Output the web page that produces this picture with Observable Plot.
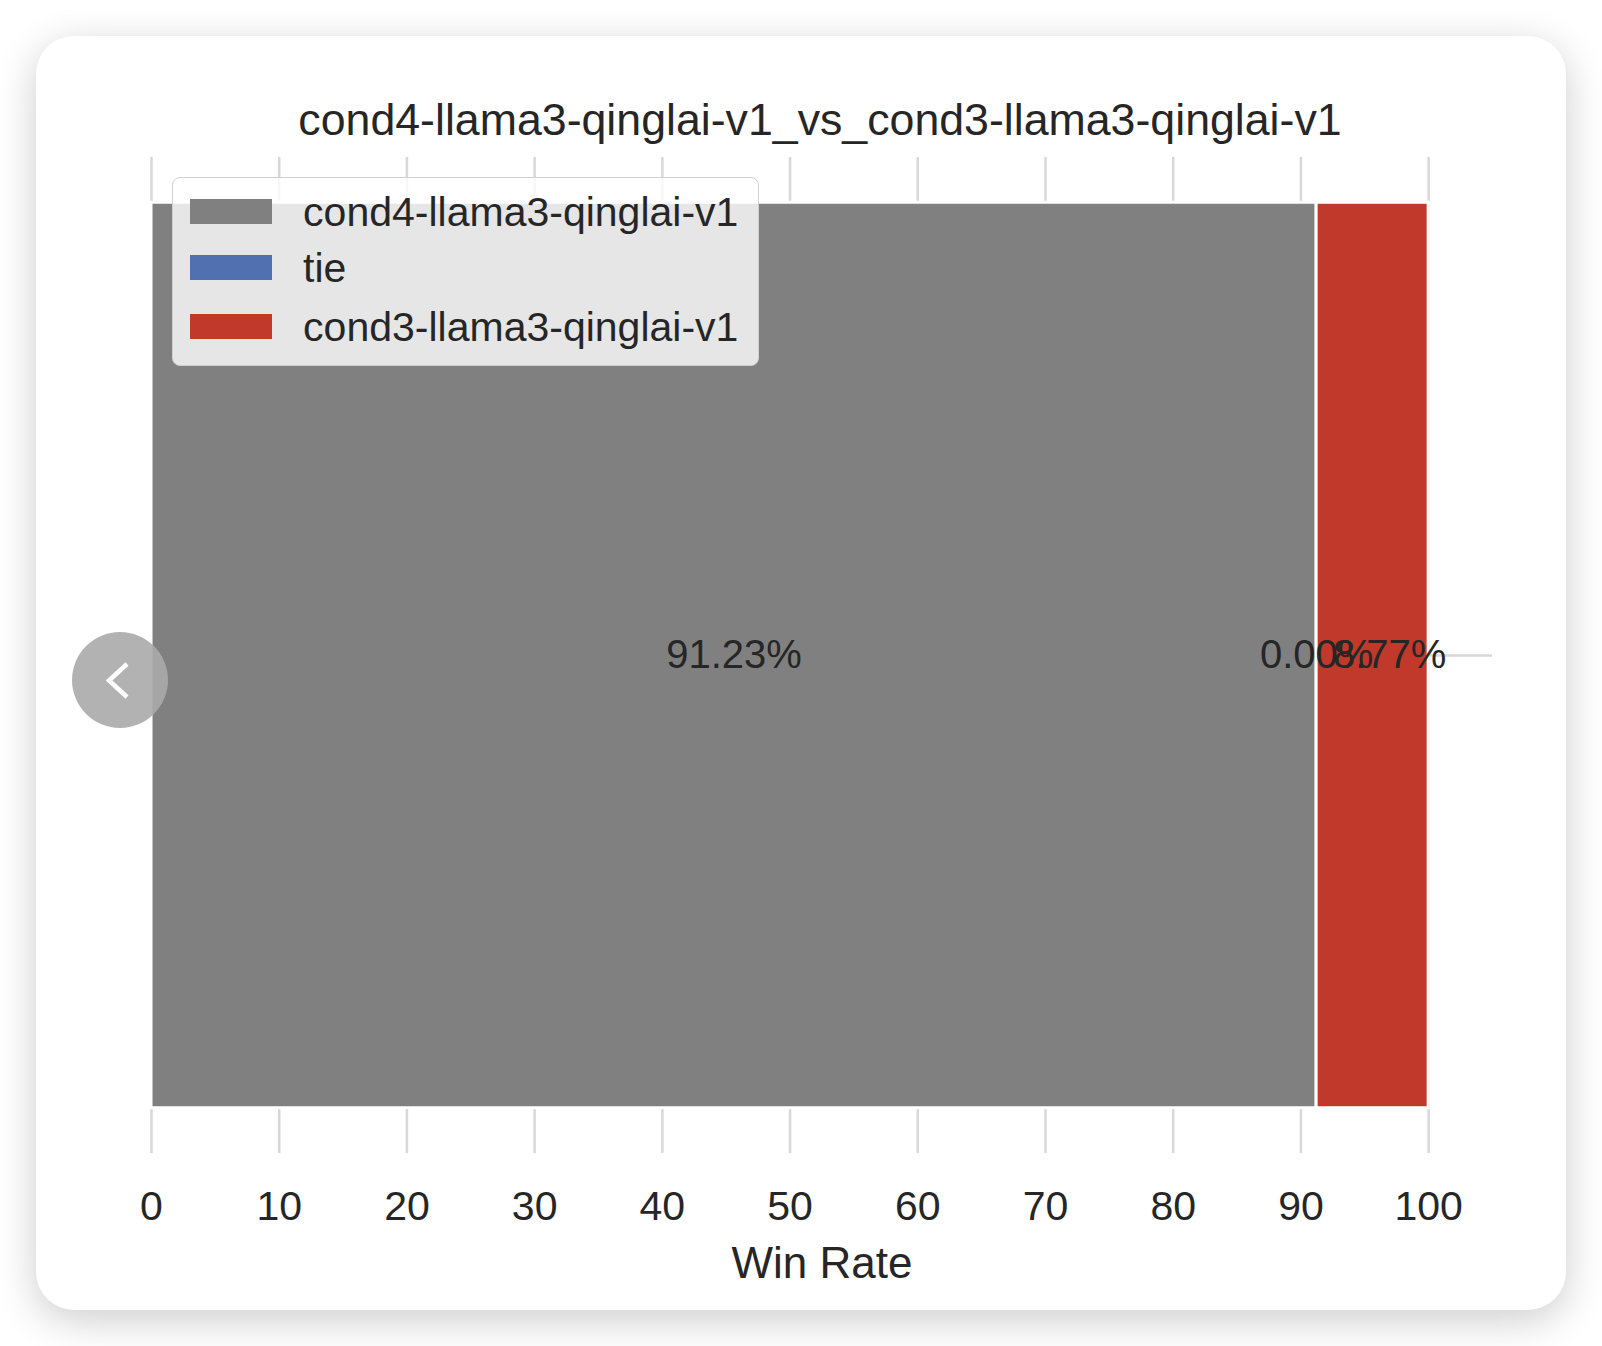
<!DOCTYPE html>
<html>
<head>
<meta charset="utf-8">
<script src="https://cdn.jsdelivr.net/npm/d3@7"></script>
<script src="https://cdn.jsdelivr.net/npm/@observablehq/plot@0.6"></script>
<style>
  html, body { margin: 0; padding: 0; background: #ffffff; width: 1602px; height: 1346px; overflow: hidden;
    font-family: "Liberation Sans", Arial, Helvetica, sans-serif; }
  #card { position: absolute; left: 36px; top: 36px; width: 1530px; height: 1274px; background: #fff;
    border-radius: 38px; box-shadow: 0 10px 40px rgba(0,0,0,0.20); }
  #title { position: absolute; left: 0; top: 97px; width: 1640px; text-align: center; font-size: 44.7px;
    line-height: 45px; color: #262626; white-space: nowrap; }
  #chart { position: absolute; left: 0; top: 150px; }
  #legend { position: absolute; left: 171.6px; top: 176.8px; width: 587.4px; height: 189px; box-sizing: border-box;
    background: rgba(255,255,255,0.8); border: 1.5px solid #d0d0d0; border-radius: 8px; }
  .sw { position: absolute; width: 82px; height: 25px; }
  .lt { position: absolute; font-size: 41px; line-height: 41px; color: #262626; white-space: nowrap; }
  #btn { position: absolute; left: 72px; top: 632px; width: 96px; height: 96px; border-radius: 50%;
    background: rgba(170,170,170,0.9); }
</style>
</head>
<body>
<div id="card"></div>
<div id="title"></div>
<div id="chart"></div>
<div id="legend"></div>
<div id="btn"><svg width="96" height="96"><polyline points="55,32 37,48.5 55,65" fill="none" stroke="#fff" stroke-width="4.5"/></svg></div>
<script>
// ---- data ----
const chartTitle = "cond4-llama3-qinglai-v1_vs_cond3-llama3-qinglai-v1";
const seriesNames = ["cond4-llama3-qinglai-v1", "tie", "cond3-llama3-qinglai-v1"];
const seriesValues = [91.23, 0.00, 8.77];
const seriesColors = ["#808080", "#5070b0", "#c0392b"];
const xTicks = [0, 10, 20, 30, 40, 50, 60, 70, 80, 90, 100];
const xLabel = "Win Rate";

// build stacked segments
let acc = 0;
const segments = seriesNames.map((name, i) => {
  const x1 = acc; acc += seriesValues[i];
  return { name, x1, x2: acc, mid: (x1 + acc) / 2, label: seriesValues[i].toFixed(2) + "%" };
});
const lastSeg = segments.slice(-1);
const otherSegs = segments.slice(0, -1);

document.getElementById("title").textContent = chartTitle;

const font = "'Liberation Sans', Arial, Helvetica, sans-serif";
const txt = "#262626";
const gridColor = "#d8d8d8";

const plot = Plot.plot({
  width: 1602,
  height: 1150,
  marginLeft: 151,
  marginRight: 110,
  marginTop: 7,
  marginBottom: 147,
  style: { background: "transparent", fontFamily: font, overflow: "visible" },
  x: { domain: [0, 105], label: null },
  y: { domain: [-0.44, 0.44], axis: null, label: null },
  color: { domain: seriesNames, range: seriesColors },
  marks: [
    Plot.gridX(xTicks, { stroke: gridColor, strokeOpacity: 1, strokeWidth: 2.5 }),
    Plot.ruleY([0], { x1: 0, x2: 105, stroke: gridColor, strokeOpacity: 1, strokeWidth: 2.5 }),
    Plot.rectX(segments, { x1: "x1", x2: "x2", y1: -0.4, y2: 0.4, fill: "name", stroke: "white", strokeWidth: 3 }),
    Plot.text(otherSegs, { x: "mid", y: 0, text: "label", fontSize: 40, fill: txt }),
    Plot.text(lastSeg, { x: "mid", y: 0, text: "label", fontSize: 40, fill: txt, dx: 17 }),
    Plot.axisX(xTicks, { tickSize: 0, tickPadding: 37, fontSize: 41, color: txt, label: null }),
    Plot.text([xLabel], { frameAnchor: "bottom", lineAnchor: "middle", dy: 110, fontSize: 44, fill: txt })
  ]
});
document.getElementById("chart").appendChild(plot);

// legend
const legend = document.getElementById("legend");
const rowCenters = [33.7, 90.2, 149.2];
seriesNames.forEach((name, i) => {
  const sw = document.createElement("div");
  sw.className = "sw";
  sw.style.left = "17px";
  sw.style.top = (rowCenters[i] - 12.5) + "px";
  sw.style.background = seriesColors[i];
  legend.appendChild(sw);
  const t = document.createElement("div");
  t.className = "lt";
  t.style.left = "130.5px";
  t.style.top = (rowCenters[i] - 19.7) + "px";
  t.textContent = name;
  legend.appendChild(t);
});
</script>
</body>
</html>
